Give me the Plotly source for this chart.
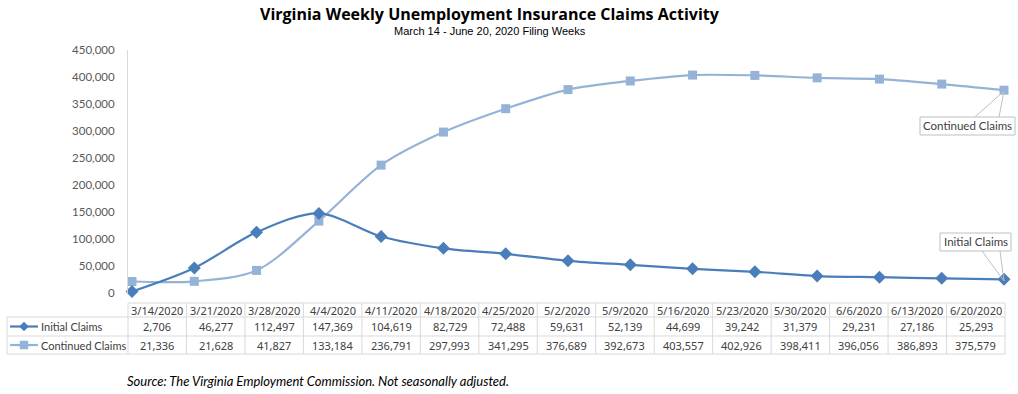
import plotly.graph_objects as go

weeks = ["3/14/2020", "3/21/2020", "3/28/2020", "4/4/2020", "4/11/2020", "4/18/2020", "4/25/2020",
         "5/2/2020", "5/9/2020", "5/16/2020", "5/23/2020", "5/30/2020", "6/6/2020", "6/13/2020", "6/20/2020"]
initial_claims = [2706, 46277, 112497, 147369, 104619, 82729, 72488, 59631, 52139, 44699, 39242,
                  31379, 29231, 27186, 25293]
continued_claims = [21336, 21628, 41827, 133184, 236791, 297993, 341295, 376689, 392673, 403557,
                    402926, 398411, 396056, 386893, 375579]
y_ticks = [0, 50000, 100000, 150000, 200000, 250000, 300000, 350000, 400000, 450000]

W, H = 1018, 394
C_INIT = "#4a7ebb"
C_CONT = "#95b3d7"
GRID = "#d9d9d9"
FONT = "Lato"


def px(x):
    return x / W


def py(y):
    return 1 - y / H


n = len(weeks)
step = (1004 - 132) / (n - 1)
x_lo = -4 / step
x_hi = (n - 1) + 1 / step

fig = go.Figure()
xs = list(range(n))
fig.add_trace(go.Scatter(x=xs, y=continued_claims, mode="lines+markers", name="Continued Claims",
                         line=dict(color=C_CONT, width=2.2, shape="spline", smoothing=0.9),
                         marker=dict(symbol="square", size=9, color=C_CONT), cliponaxis=False))
fig.add_trace(go.Scatter(x=xs, y=initial_claims, mode="lines+markers", name="Initial Claims",
                         line=dict(color=C_INIT, width=2.2, shape="spline", smoothing=0.9),
                         marker=dict(symbol="diamond", size=10, color=C_INIT), cliponaxis=False))

shapes = []
annotations = []

# legend keys in the table
for yk, col, sym in ((326.5, C_INIT, "diamond"), (345, C_CONT, "square")):
    shapes.append(dict(type="line", xref="paper", yref="paper", x0=px(10), x1=px(38),
                       y0=py(yk), y1=py(yk), line=dict(color=col, width=2.2)))
    if sym == "diamond":
        path = (f"M {px(24 - 4.5)},{py(yk)} L {px(24)},{py(yk - 4.5)} "
                f"L {px(24 + 4.5)},{py(yk)} L {px(24)},{py(yk + 4.5)} Z")
        shapes.append(dict(type="path", xref="paper", yref="paper", path=path,
                           fillcolor=col, line=dict(color=col, width=0.5)))
    else:
        shapes.append(dict(type="rect", xref="paper", yref="paper", x0=px(20), x1=px(28),
                           y0=py(yk - 4), y1=py(yk + 4), fillcolor=col, line=dict(color=col, width=0.5)))

# table grid
col_l = 128
col_r = 1005
cw = (col_r - col_l) / n
row_y = [303, 317, 336, 354]
line_style = dict(color=GRID, width=1)
shapes.append(dict(type="line", xref="paper", yref="paper", x0=px(col_l), x1=px(col_r),
                   y0=py(row_y[0]), y1=py(row_y[0]), line=line_style))
for yv in row_y[1:]:
    shapes.append(dict(type="line", xref="paper", yref="paper", x0=px(7), x1=px(col_r),
                       y0=py(yv), y1=py(yv), line=line_style))
for i in range(n + 1):
    xv = col_l + i * cw
    shapes.append(dict(type="line", xref="paper", yref="paper", x0=px(xv), x1=px(xv),
                       y0=py(row_y[0]), y1=py(row_y[3]), line=line_style))
shapes.append(dict(type="line", xref="paper", yref="paper", x0=px(7), x1=px(7),
                   y0=py(row_y[1]), y1=py(row_y[3]), line=line_style))

nfont = dict(family="Noto Sans", size=11, color="#404040")
tfont = dict(family=FONT, size=11, color="#404040")
for i in range(n):
    cx = col_l + (i + 0.5) * cw
    annotations.append(dict(x=px(cx), y=py((row_y[0] + row_y[1]) / 2), xref="paper", yref="paper",
                            text=weeks[i], showarrow=False, font=nfont, xanchor="center", yanchor="middle"))
    annotations.append(dict(x=px(cx), y=py((row_y[1] + row_y[2]) / 2), xref="paper", yref="paper",
                            text=f"{initial_claims[i]:,}", showarrow=False, font=nfont,
                            xanchor="center", yanchor="middle"))
    annotations.append(dict(x=px(cx), y=py((row_y[2] + row_y[3]) / 2), xref="paper", yref="paper",
                            text=f"{continued_claims[i]:,}", showarrow=False, font=nfont,
                            xanchor="center", yanchor="middle"))
annotations.append(dict(x=px(39), y=py(326.5), xref="paper", yref="paper", text="Initial Claims",
                        showarrow=False, font=tfont, xanchor="left", yanchor="middle"))
annotations.append(dict(x=px(39), y=py(345), xref="paper", yref="paper", text="Continued Claims",
                        showarrow=False, font=tfont, xanchor="left", yanchor="middle"))

# callout labels
lbl_font = dict(family=FONT, size=11.5, color="#404040")
shapes.append(dict(type="rect", xref="paper", yref="paper", x0=px(920), x1=px(1015),
                   y0=py(117), y1=py(135), line=dict(color="#bfbfbf", width=1), fillcolor="white"))
for xe in (975, 999):
    shapes.append(dict(type="line", xref="paper", yref="paper", x0=px(1004), y0=py(91),
                       x1=px(xe), y1=py(117), line=dict(color="#bfbfbf", width=1)))
annotations.append(dict(x=px(967.5), y=py(126), xref="paper", yref="paper", text="Continued Claims",
                        showarrow=False, font=lbl_font, xanchor="center", yanchor="middle"))
shapes.append(dict(type="rect", xref="paper", yref="paper", x0=px(940), x1=px(1011),
                   y0=py(233), y1=py(251), line=dict(color="#bfbfbf", width=1), fillcolor="white"))
for xe in (982, 1000):
    shapes.append(dict(type="line", xref="paper", yref="paper", x0=px(1004), y0=py(281),
                       x1=px(xe), y1=py(251), line=dict(color="#bfbfbf", width=1)))
annotations.append(dict(x=px(975.5), y=py(242), xref="paper", yref="paper", text="Initial Claims",
                        showarrow=False, font=lbl_font, xanchor="center", yanchor="middle"))

# titles
annotations.append(dict(x=px(490), y=py(14), xref="paper", yref="paper",
                        text="<b>Virginia Weekly Unemployment Insurance Claims Activity</b>",
                        showarrow=False, font=dict(family="Open Sans", size=16, color="black"),
                        xanchor="center", yanchor="middle"))
annotations.append(dict(x=px(490), y=py(31), xref="paper", yref="paper",
                        text="March 14 - June 20, 2020 Filing Weeks",
                        showarrow=False,
                        font=dict(family="Liberation Sans Narrow, Liberation Sans", size=11, color="black"),
                        xanchor="center", yanchor="middle"))
annotations.append(dict(x=px(125), y=py(381), xref="paper", yref="paper",
                        text="<i>Source: The Virginia Employment Commission. Not seasonally adjusted.</i>",
                        showarrow=False, font=dict(family=FONT, size=13, color="black"),
                        xanchor="left", yanchor="middle"))

fig.update_layout(
    template="none",
    width=W, height=H, autosize=False,
    margin=dict(l=0, r=0, t=0, b=0, pad=0, autoexpand=False),
    paper_bgcolor="white", plot_bgcolor="white",
    showlegend=False,
    shapes=shapes, annotations=annotations,
    xaxis=dict(domain=[px(128), px(1005)], range=[x_lo, x_hi], showgrid=False, zeroline=False,
               showticklabels=False, showline=False, ticks="", automargin=False),
    yaxis=dict(domain=[py(293), py(50)], range=[0, 450000], tickvals=y_ticks,
               ticktext=[f"{v:,}" for v in y_ticks], showgrid=False, zeroline=False,
               showline=True, linecolor=GRID, linewidth=1, ticks="", ticklabelstandoff=10,
               automargin=False, tickfont=dict(family=FONT, size=11.5, color="#595959")),
)

fig.write_html("out.html", config={"displayModeBar": False},
               post_script="document.body.style.margin='0';document.body.style.overflow='hidden';")
